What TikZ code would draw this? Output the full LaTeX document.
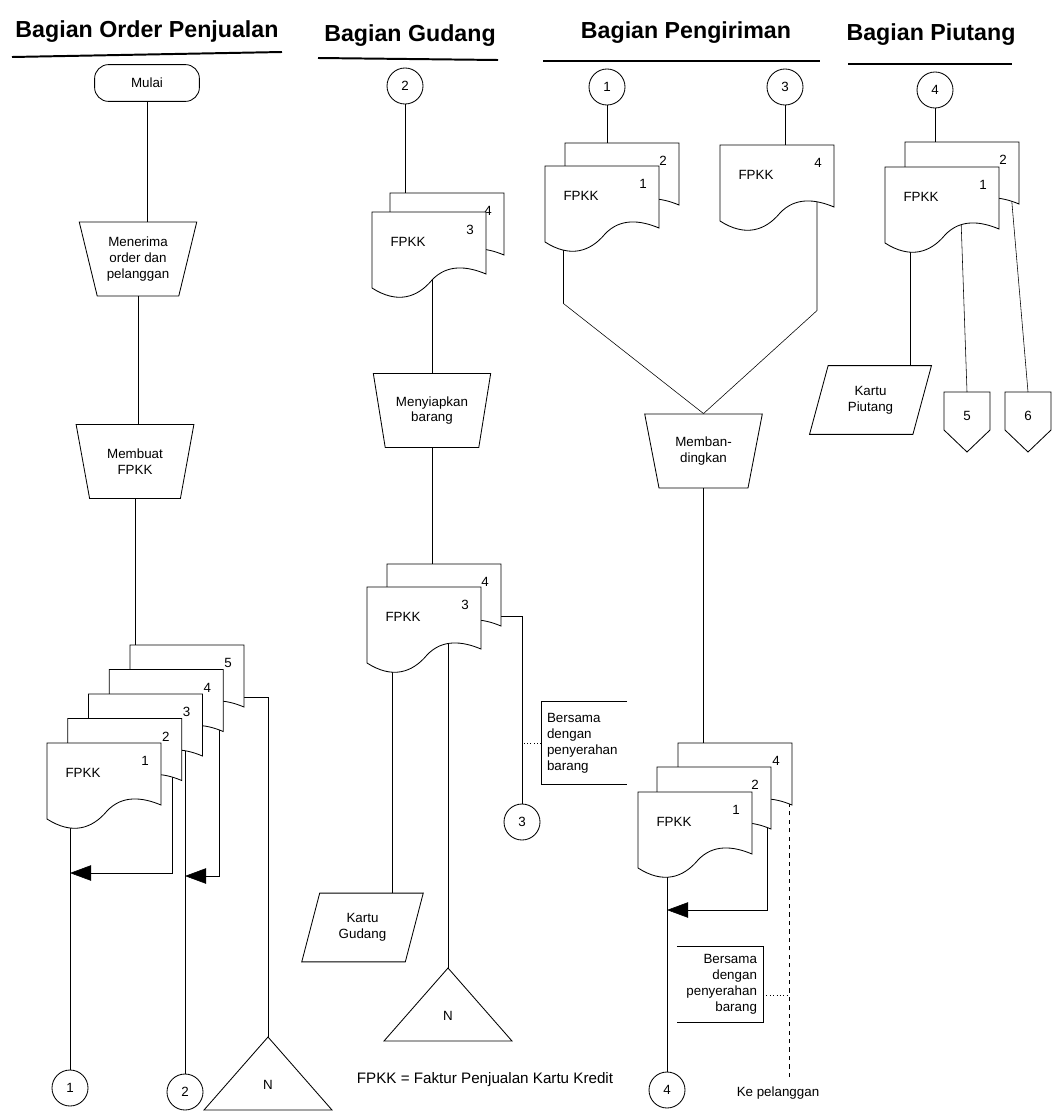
\documentclass[tikz,border=0pt]{standalone}
\usepackage{fontspec}
\setmainfont{Liberation Sans}
\usetikzlibrary{shapes.geometric,arrows.meta}
\pgfdeclarelayer{background}
\pgfsetlayers{background,main}

\begin{document}
\begin{tikzpicture}[x=0.025cm,y=-0.025cm,line width=0.6pt,
  lbl/.style={font=\fontsize{9.5}{11.3}\selectfont, inner sep=1pt},
  head/.style={font=\fontsize{16.5}{18}\selectfont\bfseries, inner sep=0pt},
  term/.style={draw, rounded corners=10pt, minimum width=2.62cm, minimum height=0.92cm, lbl},
  proc/.style={draw, trapezium, shape border rotate=180, trapezium angle=73,
    trapezium stretches=true, minimum width=2.95cm, minimum height=1.85cm, align=center, lbl},
  card/.style={draw, trapezium, trapezium left angle=71, trapezium right angle=109,
    trapezium stretches=true, minimum width=3.05cm, minimum height=1.72cm, align=center, lbl},
  conn/.style={draw, circle, minimum size=0.9cm, inner sep=0pt, lbl},
  note/.style={lbl, inner xsep=4pt, text width=1.85cm, minimum height=2.05cm},
  arr/.style={-{Triangle[length=15pt,width=11pt]}},
]

    \tikzset{
      pics/fdoc/.style 2 args={code={
        \draw[fill=white] (0,0) -- (114,0) -- (114,62)
          .. controls (95,54) and (75,52) .. (60,68)
          .. controls (45,86) and (25,92) .. (0,76) -- cycle;
        \node[lbl] (-num) at (98,18) {#1};
        \node[lbl] (-txt) at (36,30) {#2};
        \coordinate (-bl) at (25,50);
        \coordinate (-mid) at (57,52);
        \coordinate (-crest) at (76,52);
        \coordinate (-re) at (106,50);
      }},
      pics/ntri/.style={code={
        \draw (0,0) -- (64,73) -- (-64,73) -- cycle;
        \node[lbl] (-txt) at (0,48) {N};
        \coordinate (-apex) at (0,0);
      }},
      pics/offp/.style={code={
        \draw (-23,0) -- (23,0) -- (23,38) -- (0,60) -- (-23,38) -- cycle;
        \node[lbl] (-txt) at (0,24) {#1};
        \coordinate (-top) at (0,0);
      }},
    }
    \useasboundingbox (0,0) rectangle (1060,1111);

    % kepala kolom
    \node[head] (h1) at (147,32) {Bagian Order Penjualan};
    \node[head] (h2) at (410,36) {Bagian Gudang};
    \node[head] (h3) at (686,33) {Bagian Pengiriman};
    \node[head] (h4) at (931,35) {Bagian Piutang};
    \draw[line width=1.4pt] (12,57) -- (282,52);
    \draw[line width=1.4pt] (318,58) -- (498,60);
    \draw[line width=1.4pt] (543,61) -- (820,61);
    \draw[line width=1.4pt] (848,64) -- (1012,64);

    % Bagian Order Penjualan
    \node[term] (mulai) at (147,83) {Mulai};
    \node[proc] (terima) at (138,259) {Menerima\\order dan\\pelanggan};
    \node[proc] (buat) at (135,461.5) {Membuat\\FPKK};
    \foreach \k in {5,4,3,2}
      \pic (op\k) at ({47+20.75*(\k-1)},{743-24.5*(\k-1)}) {fdoc={\k}{}};
    \pic (op1) at (47,743) {fdoc={1}{FPKK}};
    \node[conn] (oc1) at (70,1088) {1};
    \node[conn] (oc2) at (185,1092) {2};
    \pic (otri) at (268,1037) {ntri};
    \coordinate (oj1) at (172,873);
    \coordinate (oj2) at (219,876);

    % Bagian Gudang
    \node[conn] (gc2) at (405,86) {2};
    \pic (ga4) at (390,193) {fdoc={4}{}};
    \pic (ga3) at (372,212) {fdoc={3}{FPKK}};
    \node[proc] (siap) at (432,410.5) {Menyiapkan\\barang};
    \pic (gb4) at (387,564) {fdoc={4}{}};
    \pic (gb3) at (367,587) {fdoc={3}{FPKK}};
    \node[conn] (gc3) at (522,822) {3};
    \node[note, anchor=west, align=left] (gnote) at (541,743) {Bersama\\dengan\\penyerahan\\barang};
    \draw (gnote.north east) -- (gnote.north west) -- (gnote.south west) -- (gnote.south east);
    \node[card] (kgud) at (362.5,927.5) {Kartu\\Gudang};
    \pic (gtri) at (448,968) {ntri};
    \node[lbl, font=\fontsize{10.8}{12}\selectfont] (ket) at (485,1080) {FPKK = Faktur Penjualan Kartu Kredit};

    % Bagian Pengiriman
    \node[conn] (pc1) at (607,87) {1};
    \node[conn] (pc3) at (785,87) {3};
    \pic (pa2) at (565,143) {fdoc={2}{}};
    \pic (pa1) at (545,166) {fdoc={1}{FPKK}};
    \pic (pa4) at (720,145) {fdoc={4}{FPKK}};
    \node[proc] (banding) at (703.5,451) {Memban-\\dingkan};
    \pic (pb4) at (678,743) {fdoc={4}{}};
    \pic (pb2) at (657,767) {fdoc={2}{}};
    \pic (pb1) at (638,792) {fdoc={1}{FPKK}};
    \coordinate (pj1) at (767,910);
    \node[conn] (pc4) at (667,1090) {4};
    \coordinate (pke) at (789,1077);
    \node[lbl] (kepel) at (778,1093) {Ke pelanggan};
    \node[note, anchor=east, align=right, minimum height=1.88cm] (pnote) at (763,984.5) {Bersama\\dengan\\penyerahan\\barang};
    \draw (pnote.north west) -- (pnote.north east) -- (pnote.south east) -- (pnote.south west);

    % Bagian Piutang
    \node[conn] (tc4) at (935,90) {4};
    \pic (ta2) at (905,142) {fdoc={2}{}};
    \pic (ta1) at (885,167) {fdoc={1}{FPKK}};
    \node[card] (kpiut) at (870.5,400) {Kartu\\Piutang};
    \pic (t5) at (967,392) {offp=5};
    \pic (t6) at (1028,392) {offp=6};

    % garis alir
    \begin{pgfonlayer}{background}
    \draw (mulai.south) -- (mulai.south |- terima.north);
    \draw (terima.south) -- (terima.south |- buat.north);
    \draw (buat.south) -- (buat.south |- op5-mid);
    \draw (oc1.north) -- (oc1.north |- op1-bl);
    \draw[arr] (oj1 |- op2-mid) |- (oc1.north |- oj1);
    \draw (oc2.north) -- (oc2.north |- op3-mid);
    \draw[arr] (oj2 |- op4-mid) |- (oc2.north |- oj2);
    \draw (otri-apex) |- (op5-mid);

    \draw (gc2.south) -- (gc2.south |- ga4-mid);
    \draw (siap.north) -- (siap.north |- ga3-mid);
    \draw (siap.south) -- (siap.south |- gb4-mid);
    \draw (gc3.north) |- (gb4-mid);
    \draw[dotted] (gnote.west) -- (gc3.north |- gnote.west);
    \draw (kgud.north -| gb3-bl) -- (gb3-bl);
    \draw (gtri-apex) -- (gtri-apex |- gb3-crest);

    \draw (pc1.south) -- (pc1.south |- pa2-mid);
    \draw (pc3.south) -- (pc3.south |- pa4-mid);
    \draw (banding.north) -- ++(-140,-110) |- (pa1-bl);
    \draw (banding.north) -- ++(113.5,-103) |- (pa4-mid);
    \draw (banding.south) -- (banding.south |- pb4-mid);
    \draw (pc4.north) -- (pc4.north |- pb1-mid);
    \draw[arr] (pj1 |- pb2-mid) |- (pc4.north |- pj1);
    \draw[dashed] (pke) -- (pke |- pb4-mid);
    \draw[dotted] (pnote.-14) -- (pnote.-14 -| pke);

    \draw (tc4.south) -- (tc4.south |- ta2-mid);
    \draw (kpiut.north -| ta1-bl) -- (ta1-bl);
    \draw (t5-top) -- (ta1-crest);
    \draw (t6-top) -- (ta2-re);
    \end{pgfonlayer}

\end{tikzpicture}
\end{document}
